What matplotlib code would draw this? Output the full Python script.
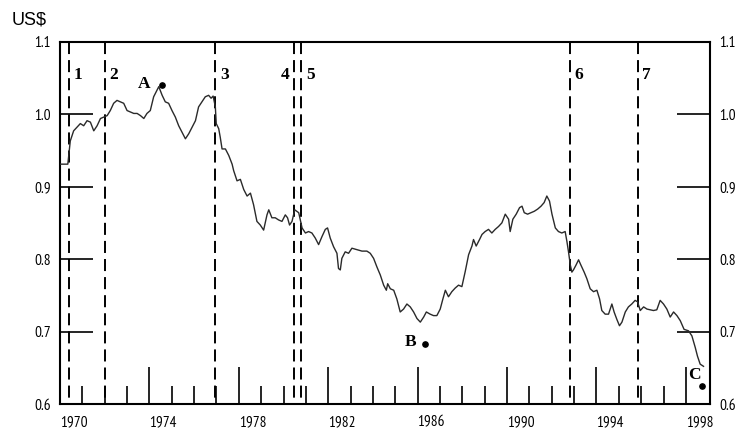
import matplotlib
matplotlib.use("Agg")
import matplotlib.pyplot as plt
from matplotlib.ticker import FixedLocator

# ---------------- data ----------------
years = [1970.00, 1970.35, 1970.46, 1970.61, 1970.76, 1970.91, 1971.06, 1971.21, 1971.36, 1971.51,
         1971.66, 1971.81, 1971.96, 1972.11, 1972.25, 1972.40, 1972.55, 1972.70, 1972.85, 1973.00,
         1973.15, 1973.30, 1973.45, 1973.60, 1973.75, 1973.89, 1974.04, 1974.19, 1974.34, 1974.42,
         1974.57, 1974.71, 1974.86, 1975.01, 1975.16, 1975.31, 1975.46, 1975.61, 1975.76, 1975.91,
         1976.06, 1976.20, 1976.35, 1976.50, 1976.65, 1976.76, 1976.85, 1976.95, 1976.99, 1977.10,
         1977.17, 1977.25, 1977.40, 1977.55, 1977.70, 1977.77, 1977.92, 1978.07, 1978.22, 1978.37,
         1978.52, 1978.66, 1978.81, 1978.96, 1979.11, 1979.26, 1979.34, 1979.48, 1979.63, 1979.78,
         1979.93, 1980.08, 1980.18, 1980.27, 1980.38, 1980.50, 1980.68, 1980.83, 1980.98, 1981.12,
         1981.27, 1981.42, 1981.57, 1981.72, 1981.87, 1981.97, 1982.09, 1982.24, 1982.39, 1982.46,
         1982.54, 1982.61, 1982.76, 1982.91, 1983.06, 1983.28, 1983.51, 1983.73, 1983.88, 1984.03,
         1984.18, 1984.33, 1984.48, 1984.60, 1984.66, 1984.78, 1984.93, 1985.07, 1985.22, 1985.37,
         1985.52, 1985.67, 1985.82, 1985.97, 1986.12, 1986.27, 1986.39, 1986.56, 1986.71, 1986.86,
         1987.01, 1987.13, 1987.24, 1987.38, 1987.53, 1987.68, 1987.83, 1987.98, 1988.13, 1988.28,
         1988.43, 1988.50, 1988.62, 1988.77, 1988.88, 1989.02, 1989.17, 1989.32, 1989.47, 1989.62,
         1989.77, 1989.92, 1990.07, 1990.14, 1990.26, 1990.41, 1990.56, 1990.67, 1990.77, 1990.92,
         1991.07, 1991.22, 1991.37, 1991.52, 1991.66, 1991.78, 1991.90, 1992.01, 1992.16, 1992.30,
         1992.45, 1992.60, 1992.68, 1992.75, 1992.83, 1992.90, 1992.97, 1993.09, 1993.20, 1993.30,
         1993.45, 1993.57, 1993.72, 1993.87, 1994.02, 1994.14, 1994.24, 1994.39, 1994.54, 1994.69,
         1994.79, 1994.91, 1995.03, 1995.14, 1995.29, 1995.43, 1995.58, 1995.73, 1995.84, 1995.96,
         1996.11, 1996.26, 1996.40, 1996.55, 1996.70, 1996.85, 1997.00, 1997.15, 1997.30, 1997.45,
         1997.60, 1997.75, 1997.92, 1998.12, 1998.27, 1998.42, 1998.52, 1998.64, 1998.79]

rate = [0.931, 0.931, 0.963, 0.977, 0.982, 0.987, 0.984, 0.991, 0.989, 0.977,
        0.984, 0.994, 0.996, 0.998, 1.005, 1.015, 1.019, 1.017, 1.015, 1.005,
        1.003, 1.001, 1.001, 0.998, 0.994, 1.001, 1.005, 1.024, 1.033, 1.038,
        1.026, 1.017, 1.015, 1.005, 0.996, 0.984, 0.975, 0.966, 0.973, 0.982,
        0.991, 1.010, 1.017, 1.024, 1.026, 1.022, 1.025, 1.010, 0.987, 0.980,
        0.968, 0.952, 0.952, 0.943, 0.931, 0.922, 0.908, 0.910, 0.896, 0.887,
        0.891, 0.875, 0.852, 0.847, 0.840, 0.861, 0.868, 0.857, 0.857, 0.854,
        0.852, 0.861, 0.857, 0.847, 0.852, 0.868, 0.864, 0.843, 0.836, 0.838,
        0.836, 0.829, 0.820, 0.831, 0.841, 0.843, 0.829, 0.817, 0.808, 0.787,
        0.785, 0.801, 0.810, 0.808, 0.815, 0.813, 0.811, 0.811, 0.808, 0.801,
        0.789, 0.778, 0.764, 0.757, 0.766, 0.759, 0.757, 0.745, 0.727, 0.731,
        0.738, 0.734, 0.727, 0.718, 0.713, 0.720, 0.727, 0.724, 0.722, 0.722,
        0.731, 0.745, 0.757, 0.748, 0.755, 0.760, 0.764, 0.762, 0.783, 0.806,
        0.818, 0.827, 0.818, 0.827, 0.834, 0.838, 0.841, 0.836, 0.841, 0.845,
        0.850, 0.862, 0.855, 0.838, 0.855, 0.862, 0.871, 0.873, 0.864, 0.862,
        0.864, 0.866, 0.869, 0.873, 0.878, 0.887, 0.880, 0.862, 0.843, 0.838,
        0.836, 0.838, 0.824, 0.810, 0.792, 0.782, 0.785, 0.792, 0.799, 0.792,
        0.782, 0.773, 0.759, 0.755, 0.757, 0.745, 0.729, 0.724, 0.724, 0.738,
        0.727, 0.717, 0.708, 0.713, 0.727, 0.734, 0.738, 0.743, 0.741, 0.729,
        0.734, 0.731, 0.730, 0.729, 0.730, 0.743, 0.738, 0.731, 0.720, 0.727,
        0.722, 0.715, 0.703, 0.701, 0.694, 0.678, 0.666, 0.655, 0.652]

event_years = [1970.42, 1972.02, 1976.95, 1980.45, 1980.80, 1992.80, 1995.84]
event_labels = ["1", "2", "3", "4", "5", "6", "7"]

point_labels = ["A", "B", "C"]
point_years = [1974.58, 1986.34, 1998.72]
point_values = [1.040, 0.683, 0.625]
point_label_years = [1973.77, 1985.68, 1998.37]
point_label_values = [1.0415, 0.685, 0.640]

major_years = [1970, 1974, 1978, 1982, 1986, 1990, 1994, 1998]
minor_years = [y for y in range(1971, 1999) if y not in major_years]
y_ticks = [0.6, 0.7, 0.8, 0.9, 1.0, 1.1]
y_ticklabels = ["0.6", "0.7", "0.8", "0.9", "1.0", "1.1"]

# ---------------- figure ----------------
narrow = ["PT Sans Narrow", "Roboto Condensed", "DejaVu Sans"]
serif_bold = ["Liberation Serif", "DejaVu Serif"]

fig = plt.figure(figsize=(7.42, 4.32), dpi=100)
ax = fig.add_axes([60 / 742, 1 - 404 / 432, 650 / 742, (404 - 41.7) / 432])

ax.plot(years, rate, color="#2a2a2a", lw=1.0, zorder=3)

ax.set_xlim(1970, 1999.08)
ax.set_ylim(0.6, 1.1)

for s in ax.spines.values():
    s.set_linewidth(1.5)
    s.set_color("black")

# x ticks
ax.xaxis.set_major_locator(FixedLocator(major_years))
ax.xaxis.set_minor_locator(FixedLocator(minor_years))
ax.set_xticklabels([str(y) for y in major_years], ha="left", fontfamily=narrow, fontsize=11)
ax.tick_params(axis="x", which="major", direction="in", length=26.4, width=1.2, pad=8, color="black")
ax.tick_params(axis="x", which="minor", direction="in", length=13, width=1.2, color="black")

# y ticks (both sides)
ax.set_yticks(y_ticks)
ax.set_yticklabels(y_ticklabels, fontfamily=narrow, fontsize=11)
ax.tick_params(axis="y", which="major", direction="in", length=23.8, width=1.2,
               left=True, right=True, labelleft=True, labelright=True, pad=6.5, color="black")
for lab in ax.yaxis.get_ticklabels(which="major") + ax.yaxis.get_ticklabels(which="major", minor=False):
    lab.set_fontfamily(narrow)
    lab.set_fontsize(11)
for tick in ax.yaxis.get_major_ticks():
    tick.label2.set_fontfamily(narrow)
    tick.label2.set_fontsize(11)

# event lines
for ex, lab in zip(event_years, event_labels):
    ax.plot([ex, ex], [1.1, 0.6], color="black", lw=1.4, linestyle=(0, (6.2, 3.1)), zorder=2)
    if lab == "4":
        ax.text(ex - 0.2, 1.054, lab, ha="right", va="center", fontsize=12.5,
                fontweight="bold", fontfamily=serif_bold)
    else:
        ax.text(ex + 0.2, 1.054, lab, ha="left", va="center", fontsize=12.5,
                fontweight="bold", fontfamily=serif_bold)

# A, B, C points
ax.plot(point_years, point_values, "o", color="black", ms=3.8, zorder=4, clip_on=False)
for lab, lx, ly in zip(point_labels, point_label_years, point_label_values):
    ax.text(lx, ly, lab, ha="center", va="center", fontsize=12.5, fontweight="bold",
            fontfamily=serif_bold, zorder=5)

fig.text(12 / 742, 1 - 25 / 432, "US$", fontsize=13, fontfamily=["Liberation Sans", "DejaVu Sans"],
         ha="left", va="baseline")

fig.savefig("out.png", dpi=100)
